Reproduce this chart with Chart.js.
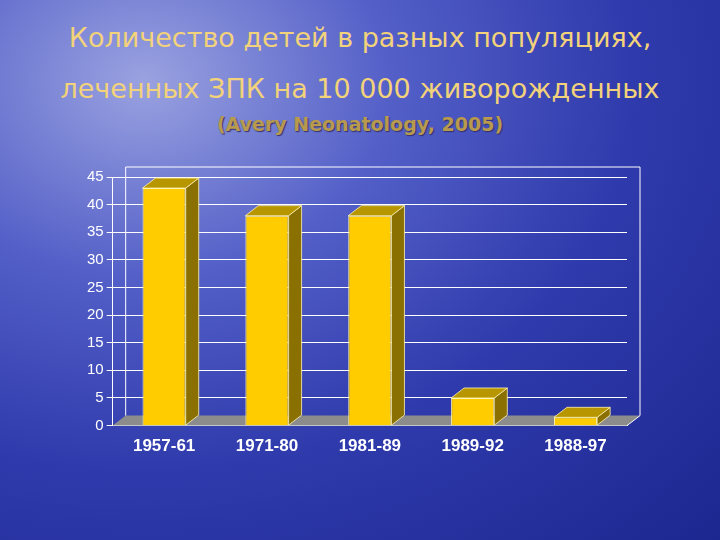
<!DOCTYPE html>
<html>
<head>
<meta charset="utf-8">
<script src="https://cdn.jsdelivr.net/npm/chart.js@4"></script>
<style>
  body { margin: 0; }
  #wrap {
    position: relative; width: 720px; height: 540px; overflow: hidden;
    background: radial-gradient(ellipse at 20% 15%, #9aa2e0 0%, #5460c8 30%, #2f3aac 60%, #1d2790 100%);
    font-family: Verdana, "DejaVu Sans", sans-serif;
  }
  .t { position: absolute; left: 0; width: 720px; text-align: center; color: #f2d27a; font-size: 27px; }
  #sub { color: #b89a4e; font-weight: bold; font-size: 19px; text-shadow: 1px 1px 1px #33306a; }
  canvas { position: absolute; left: 0; top: 0; }
</style>
</head>
<body>
<div id="wrap">
  <div class="t" style="top:22px">Количество детей в разных популяциях,</div>
  <div class="t" style="top:73px">леченных ЗПК на 10 000 живорожденных</div>
  <div class="t" id="sub" style="top:113px">(Avery Neonatology, 2005)</div>
  <canvas id="c" width="720" height="540"></canvas>
</div>
<script>
const periods = ["1957-61", "1971-80", "1981-89", "1989-92", "1988-97"];
const counts = [43, 38, 38, 5, 1.5];

const DX = 13, DY = 10;

// 3D look: floor, back wall, side and top faces of bars
const depth3d = {
    id: "depth3d",
    beforeDatasetsDraw(chart) {
        const ctx = chart.ctx, a = chart.chartArea;
        ctx.save();
        ctx.fillStyle = "#8c8c8c";
        ctx.beginPath();
        ctx.moveTo(a.left, a.bottom);
        ctx.lineTo(a.left + DX, a.bottom - DY);
        ctx.lineTo(a.right + DX, a.bottom - DY);
        ctx.lineTo(a.right, a.bottom);
        ctx.closePath();
        ctx.fill();
        ctx.strokeStyle = "#ffffff";
        ctx.lineWidth = 1;
        ctx.beginPath();
        ctx.moveTo(a.left + DX, a.bottom - DY);
        ctx.lineTo(a.left + DX, a.top - DY);
        ctx.lineTo(a.right + DX, a.top - DY);
        ctx.lineTo(a.right + DX, a.bottom - DY);
        ctx.moveTo(a.right, a.bottom);
        ctx.lineTo(a.right + DX, a.bottom - DY);
        ctx.stroke();
        ctx.restore();
    },
    afterDatasetsDraw(chart) {
        const ctx = chart.ctx;
        chart.getDatasetMeta(0).data.forEach(bar => {
            const l = bar.x - bar.width / 2, r = bar.x + bar.width / 2;
            ctx.save();
            ctx.strokeStyle = "#fff4b0";
            ctx.lineWidth = 0.8;
            ctx.fillStyle = "#8a7000";
            ctx.beginPath();
            ctx.moveTo(r, bar.base);
            ctx.lineTo(r + DX, bar.base - DY);
            ctx.lineTo(r + DX, bar.y - DY);
            ctx.lineTo(r, bar.y);
            ctx.closePath();
            ctx.fill(); ctx.stroke();
            ctx.fillStyle = "#b89600";
            ctx.beginPath();
            ctx.moveTo(l, bar.y);
            ctx.lineTo(l + DX, bar.y - DY);
            ctx.lineTo(r + DX, bar.y - DY);
            ctx.lineTo(r, bar.y);
            ctx.closePath();
            ctx.fill(); ctx.stroke();
            ctx.restore();
        });
    }
};

new Chart(document.getElementById("c"), {
    type: "bar",
    data: {
        labels: periods,
        datasets: [{
            data: counts,
            backgroundColor: "#ffcc00",
            borderColor: "#fff4b0",
            borderWidth: 1,
            barPercentage: 0.84,
            categoryPercentage: 0.5
        }]
    },
    options: {
        responsive: false,
        animation: false,
        layout: { padding: { left: 84, right: 93, top: 177, bottom: 80 } },
        plugins: { legend: { display: false }, tooltip: { enabled: false } },
        scales: {
            y: {
                min: 0, max: 45,
                ticks: { stepSize: 5, color: "#ffffff", font: { family: "Liberation Sans", size: 15 } },
                grid: { color: "#ffffff", offset: false, drawTicks: true, tickLength: 6 },
                border: { color: "#ffffff" }
            },
            x: {
                ticks: { color: "#ffffff", font: { family: "Liberation Sans", size: 17, weight: "bold" } },
                grid: { display: false },
                border: { color: "#ffffff" }
            }
        }
    },
    plugins: [depth3d]
});
</script>
</body>
</html>
